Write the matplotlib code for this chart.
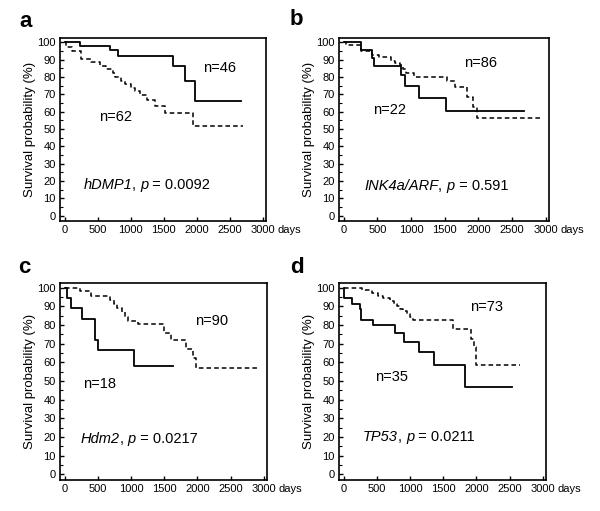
import numpy as np
import matplotlib
matplotlib.use("Agg")
import matplotlib.pyplot as plt
from matplotlib.ticker import MultipleLocator

plt.rcParams["font.family"] = ["Liberation Sans", "DejaVu Sans"]

# panel a: hDMP1
a_solid_t = [0, 237, 690, 810, 1640, 1820, 1975, 2680]
a_solid_s = [100, 97.8, 95.5, 92.1, 86.3, 77.5, 66.4, 66.4]
a_dash_t = [0, 20, 110, 255, 400, 530, 620, 730, 760, 850, 920, 1000, 1070,
            1150, 1250, 1370, 1520, 1940, 2700]
a_dash_s = [100, 97.2, 95.2, 90.2, 88.5, 86.6, 84.7, 82.3, 80.0, 78.0, 76.1,
            73.8, 71.9, 69.4, 66.5, 63.5, 59.5, 52.0, 52.0]

# panel b: INK4a/ARF
b_solid_t = [0, 260, 420, 450, 850, 905, 1115, 1525, 2680]
b_solid_s = [100, 95.5, 90.9, 86.4, 81.0, 75.0, 68.0, 60.7, 60.7]
b_dash_t = [0, 30, 250, 420, 530, 700, 760, 840, 880, 930, 1040, 1530, 1650,
            1830, 1920, 1985, 2940]
b_dash_s = [100, 98.5, 95.0, 93.0, 91.5, 89.5, 88.0, 86.8, 84.5, 82.5, 80.0,
            78.0, 74.0, 68.5, 62.5, 56.2, 56.2]

# panel c: Hdm2
c_solid_t = [0, 30, 95, 260, 460, 505, 1040, 1630]
c_solid_s = [100, 94.4, 88.9, 83.3, 72.2, 66.7, 58.3, 58.3]
c_dash_t = [0, 230, 390, 690, 740, 790, 860, 910, 960, 1100, 1500, 1600, 1830,
            1930, 1985, 2930]
c_dash_s = [100, 98.0, 95.5, 93.4, 91.1, 88.9, 86.7, 84.4, 82.2, 80.3, 75.8,
            72.2, 66.9, 62.4, 57.0, 57.0]

# panel d: TP53
d_solid_t = [0, 10, 130, 240, 265, 450, 770, 910, 1140, 1360, 1835, 2545]
d_solid_s = [100, 94.3, 91.4, 88.6, 82.9, 80.0, 75.7, 71.1, 65.5, 58.8, 47.0,
             47.0]
d_dash_t = [0, 270, 420, 520, 600, 700, 760, 800, 850, 900, 960, 1000, 1045,
            1650, 1925, 1960, 1990, 2660]
d_dash_s = [100, 98.6, 97.2, 95.8, 94.4, 93.0, 91.5, 90.1, 88.7, 87.3, 85.9,
            84.5, 82.5, 78.0, 72.5, 68.2, 58.8, 58.8]

# letter, axes rect, letter position, curves, n labels, gene label pieces
panels = [
    ("a", [0.100, 0.5675, 0.343, 0.358], (0.033, 0.947),
     a_solid_t, a_solid_s, a_dash_t, a_dash_s,
     [("n=46", 2355, 85.5), ("n=62", 775, 56.8)],
     ("hDMP1", "0.0092", 1246, 17.8)),
    ("b", [0.565, 0.5675, 0.350, 0.358], (0.483, 0.951),
     b_solid_t, b_solid_s, b_dash_t, b_dash_s,
     [("n=22", 687, 61.0), ("n=86", 2040, 88.4)],
     ("INK4a/ARF", "0.591", 1373, 17.4)),
    ("c", [0.100, 0.0607, 0.345, 0.3855], (0.030, 0.466),
     c_solid_t, c_solid_s, c_dash_t, c_dash_s,
     [("n=18", 521, 48.2), ("n=90", 2219, 82.1)],
     ("Hdm2", "0.0217", 1122, 18.7)),
    ("d", [0.565, 0.0607, 0.345, 0.3855], (0.483, 0.466),
     d_solid_t, d_solid_s, d_dash_t, d_dash_s,
     [("n=35", 724, 52.2), ("n=73", 2161, 89.7)],
     ("TP53", "0.0211", 1133, 20.2)),
]

fig = plt.figure(figsize=(6.0, 5.11), dpi=100)
renderer = fig.canvas.get_renderer()


def rich_label(ax, x, y, pieces, size):
    # draw italic/normal pieces side by side, centred on (x, y)
    texts = []
    prev = None
    for s, style in pieces:
        if prev is None:
            t = ax.text(x, y, s, fontsize=size, fontstyle=style,
                        ha="left", va="center")
        else:
            t = ax.annotate(s, xy=(1, 0), xycoords=prev, fontsize=size,
                            fontstyle=style, ha="left", va="bottom")
        texts.append(t)
        prev = t
    # shift so the whole line is centred
    x0 = texts[0].get_window_extent(renderer).x0
    x1 = texts[-1].get_window_extent(renderer).x1
    dx = (x1 - x0) / 2
    disp = ax.transData.transform((x, y))
    texts[0].set_position(ax.transData.inverted().transform((disp[0] - dx, disp[1])))


for letter, rect, lpos, st, ss, dt, ds, nlabels, gene in panels:
    ax = fig.add_axes(rect)
    ax.step(dt, ds, where="post", color="black", lw=1.1, ls=(0, (3, 2)))
    ax.step(st, ss, where="post", color="black", lw=1.3)
    ax.set_xlim(-70, 3050)
    ax.set_ylim(-3, 102.5)
    ax.set_xticks(np.arange(0, 3001, 500))
    ax.set_yticks(np.arange(0, 101, 10))
    ax.yaxis.set_minor_locator(MultipleLocator(5))
    ax.tick_params(direction="in", length=3, width=1, labelsize=8, pad=3)
    ax.tick_params(which="minor", direction="in", length=2, width=0.8)
    for sp in ax.spines.values():
        sp.set_linewidth(1.2)
    ax.set_ylabel("Survival probability (%)", fontsize=9.5, labelpad=1)
    ax.annotate("days", xy=(3000, 0), xycoords=("data", "axes fraction"),
                xytext=(11, -3), textcoords="offset points",
                ha="left", va="top", fontsize=8)
    for txt, x, y in nlabels:
        ax.text(x, y, txt, ha="center", va="center", fontsize=10.5)
    name, pval, gx, gy = gene
    rich_label(ax, gx, gy, [(name, "italic"), (", ", "normal"),
                            ("p", "italic"), (" = " + pval, "normal")], 10.5)
    fig.text(lpos[0], lpos[1], letter, fontsize=16, fontweight="bold",
             ha="left", va="baseline")

fig.savefig("out.png", dpi=100)
